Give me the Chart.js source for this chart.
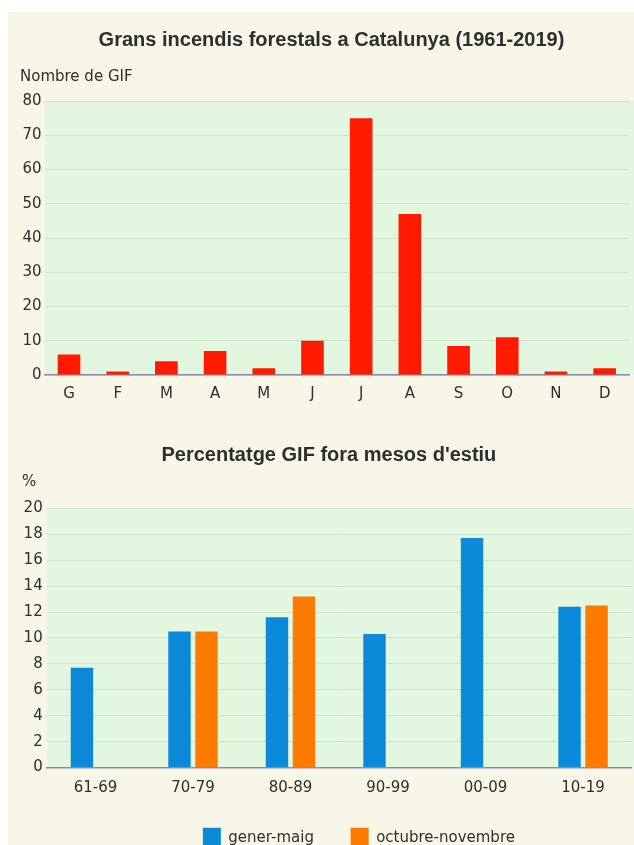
<!DOCTYPE html>
<html>
<head>
<meta charset="utf-8">
<script src="https://cdn.jsdelivr.net/npm/chart.js@4.4.1/dist/chart.umd.min.js"></script>
<style>
  body { margin: 0; width: 634px; height: 845px; overflow: hidden; background: #ffffff; position: relative; }
  #panel { position: absolute; left: 8px; top: 12px; right: 0; bottom: 0; background: #f8f6e6; }
  canvas { position: absolute; left: 0; }
  #gifChart { top: 0; }
  #pctChart { top: 420px; }
</style>
</head>
<body>
<div id="panel"></div>
<canvas id="gifChart" width="634" height="420"></canvas>
<canvas id="pctChart" width="634" height="446"></canvas>
<script>
// month initials (Catalan)
const months = ["G", "F", "M", "A", "M", "J", "J", "A", "S", "O", "N", "D"];
const gifCount = [6, 1, 4, 7, 2, 10, 75, 47, 8.5, 11, 1, 2];

const decades = ["61-69", "70-79", "80-89", "90-99", "00-09", "10-19"];
const generMaig = [7.7, 10.5, 11.6, 10.3, 17.7, 12.4];
const octubreNovembre = [null, 10.5, 13.2, null, null, 12.5];

const textColor = "#2e2e2e";
const tickFont = { family: "'DejaVu Sans', sans-serif", size: 15 };
const titleFont = { family: "'Liberation Sans', Arial, sans-serif", size: 20, weight: "bold" };

// green plot background
const plotBg = {
  id: "plotBg",
  beforeDraw(chart, args, opts) {
    const { ctx, chartArea } = chart;
    ctx.save();
    ctx.fillStyle = opts.color;
    ctx.fillRect(chartArea.left, chartArea.top, chart.width - chartArea.left, chartArea.bottom - chartArea.top);
    ctx.restore();
  },
};

// shift title / legend a bit, after layout
const nudge = {
  id: "nudge",
  afterLayout(chart, args, opts) {
    const boxes = [[chart.titleBlock, opts.title], [chart.legend, opts.legend]];
    boxes.forEach(([box, d]) => {
      if (box && d) {
        box.left += d.x || 0;
        box.right += d.x || 0;
        box.top += d.y || 0;
        box.bottom += d.y || 0;
      }
    });
  },
};

const gifConfig = {
  type: "bar",
  data: {
    labels: months,
    datasets: [
      {
        label: "Nombre de GIF",
        data: gifCount,
        backgroundColor: "#ff1a00",
        categoryPercentage: 0.55,
        barPercentage: 0.845,
      },
    ],
  },
  options: {
    responsive: false,
    animation: false,
    layout: { padding: { left: 20, right: 5, top: 0, bottom: 0 } },
    plugins: {
      legend: { display: false },
      tooltip: { enabled: false },
      title: {
        display: true,
        text: "Grans incendis forestals a Catalunya (1961-2019)",
        color: textColor,
        font: titleFont,
        padding: { top: 28, bottom: 7 },
      },
      subtitle: {
        display: true,
        text: "Nombre de GIF",
        align: "start",
        color: textColor,
        font: tickFont,
        padding: { top: 9, bottom: 15 },
      },
      plotBg: { color: "#e3f6df" },
      nudge: { title: { x: 7 } },
    },
    scales: {
      x: {
        grid: { display: false, drawTicks: false },
        border: { display: true, color: "#8d8ba6", width: 1.5 },
        ticks: { color: textColor, font: tickFont, padding: 10 },
        afterFit(scale) {
          scale.height = 45;
        },
      },
      y: {
        min: 0,
        max: 80,
        grid: { color: "#cfe2cb", lineWidth: 1, drawTicks: false },
        border: { display: false },
        ticks: { stepSize: 10, color: textColor, font: tickFont, padding: 3 },
        afterFit(scale) {
          scale.width = 24.65;
        },
      },
    },
  },
  plugins: [plotBg, nudge],
};

const pctConfig = {
  type: "bar",
  data: {
    labels: decades,
    datasets: [
      {
        label: "gener-maig",
        data: generMaig,
        backgroundColor: "#0a8ad8",
        categoryPercentage: 0.554,
        barPercentage: 0.83,
      },
      {
        label: "octubre-novembre",
        data: octubreNovembre,
        backgroundColor: "#ff7a00",
        categoryPercentage: 0.554,
        barPercentage: 0.83,
      },
    ],
  },
  options: {
    responsive: false,
    animation: false,
    layout: { padding: { left: 22, right: 2.2, top: 0, bottom: 0 } },
    plugins: {
      tooltip: { enabled: false },
      title: {
        display: true,
        text: "Percentatge GIF fora mesos d'estiu",
        color: textColor,
        font: titleFont,
        padding: { top: 23, bottom: 6 },
      },
      subtitle: {
        display: true,
        text: "%",
        align: "start",
        color: textColor,
        font: tickFont,
        padding: { top: 0, bottom: 17.3 },
      },
      legend: {
        position: "bottom",
        labels: {
          boxWidth: 18,
          boxHeight: 20,
          padding: 36.7,
          color: textColor,
          font: tickFont,
        },
      },
      plotBg: { color: "#e3f6df" },
      nudge: { title: { x: 2 }, legend: { x: 32, y: -8.3 } },
    },
    scales: {
      x: {
        grid: { display: false, drawTicks: false },
        border: { display: true, color: "#8d8ba6", width: 1.5 },
        ticks: { color: textColor, font: tickFont, padding: 12 },
        afterFit(scale) {
          scale.height = 31.7;
        },
      },
      y: {
        min: 0,
        max: 20,
        grid: { color: "#cfe2cb", lineWidth: 1, drawTicks: false },
        border: { display: false },
        ticks: { stepSize: 2, color: textColor, font: tickFont, padding: 4 },
        afterFit(scale) {
          scale.width = 24.7;
        },
      },
    },
  },
  plugins: [plotBg, nudge],
};

const gifChart = new Chart(document.getElementById("gifChart"), gifConfig);
const pctChart = new Chart(document.getElementById("pctChart"), pctConfig);
</script>
</body>
</html>
